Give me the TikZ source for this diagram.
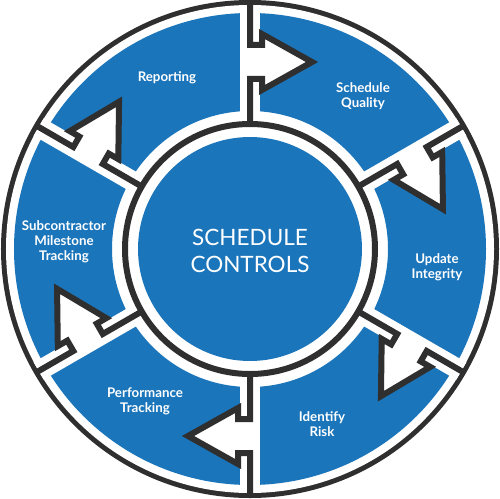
\documentclass[tikz,border=0pt]{standalone}
\usepackage{fontspec}
\setmainfont{Lato}
\definecolor{ringblue}{HTML}{1B75BB}
\definecolor{ringdark}{HTML}{2F2F2F}

\begin{document}
\begin{tikzpicture}[x=1pt,y=1pt,
    steplabel/.style={text=white,font=\bfseries\fontsize{13.3}{15}\selectfont,align=center},
    sepline/.style={draw=ringdark,line width=6,miter limit=10},
    gapline/.style={draw=white,line width=20}]
    \useasboundingbox (-250,-249) rectangle (250,249);

    % rim and ring
    \fill[ringdark] (0,0) circle (249);
    \fill[white] (0,0) circle (244);
    \fill[ringblue,even odd rule] (0,0) circle (236) (0,0) circle (138);
    \foreach \a in {90,30,...,-210}
        \draw[gapline] (\a:125) -- (\a:244);
    \draw[ringdark,line width=6] (0,0) circle (125);
    \fill[ringblue] (0,0) circle (112);

    % arrows between the steps
    \foreach \a in {90,30,...,-210} {
        \begin{scope}[rotate=\a-90]
            \fill[white] (0,170) -- (12,170) -- (12,159) -- (62,187) -- (12,215) -- (12,204) -- (0,204) -- cycle;
            \draw[sepline] (0,125) -- (0,170) -- (12,170) -- (12,159) -- (62,187) -- (12,215) -- (12,204) -- (0,204) -- (0,246);
        \end{scope}
    }

    \node[text=white,font=\fontsize{22.5}{27}\selectfont,align=center] (center) at (0,-2) {SCHEDULE\\CONTROLS};
    \node[steplabel] (reporting) at (-83,171) {Reporting};
    \node[steplabel] (quality) at (113,153) {Schedule\\Quality};
    \node[steplabel] (integrity) at (187,-18) {Update\\Integrity};
    \node[steplabel] (risk) at (72,-175) {Identify\\Risk};
    \node[steplabel] (performance) at (-105,-152) {Performance\\Tracking};
    \node[steplabel] (milestone) at (-186,7) {Subcontractor\\Milestone\\Tracking};
\end{tikzpicture}
\end{document}
